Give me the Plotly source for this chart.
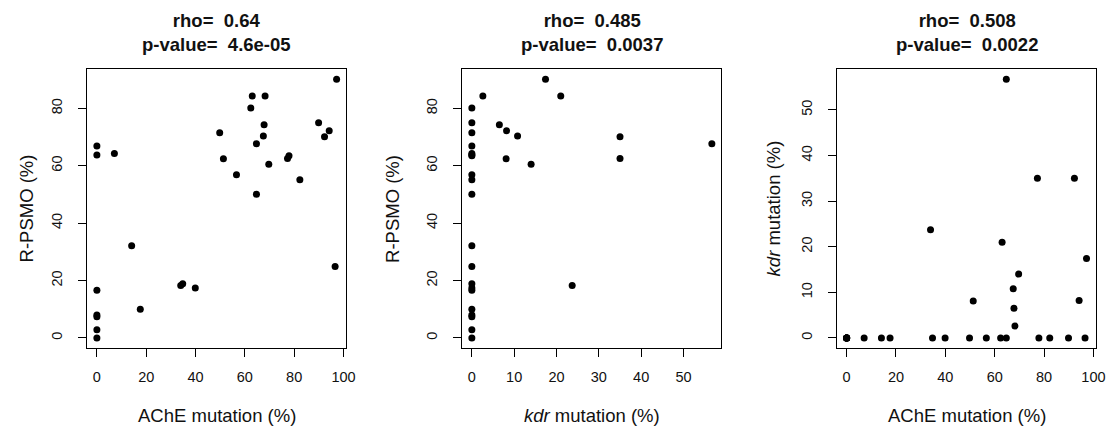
import plotly.graph_objects as go

# Data (one row per population): AChE mutation %, kdr mutation %, R-PSMO %
ache = [0, 0, 0, 0, 0, 0, 0, 7.1, 14.1, 17.6, 34.0, 34.8, 39.9, 49.8, 51.3, 56.6,
        62.4, 63.0, 64.7, 64.7, 67.5, 67.8, 68.2, 69.7, 77.3, 77.9, 82.3, 89.9,
        92.3, 94.2, 96.6, 97.2]
kdr = [0, 0, 0, 0, 0, 0, 0, 0, 0, 0, 23.7, 0, 0, 0, 8.1, 0,
       0, 21.0, 0, 56.7, 10.8, 6.5, 2.6, 14.0, 35.0, 0, 0, 0,
       35.0, 8.2, 0, 17.4]
rpsmo = [0, 2.9, 7.4, 8.0, 16.6, 63.7, 66.9, 64.3, 32.1, 10.0, 18.3, 18.9, 17.4, 71.5, 62.4, 56.9,
         80.1, 84.3, 50.1, 67.7, 70.4, 74.3, 84.3, 60.5, 62.5, 63.5, 55.1, 75.0,
         70.1, 72.2, 24.9, 90.1]

titles = [("0.64", "4.6e-05"), ("0.485", "0.0037"), ("0.508", "0.0022")]
ache_ticks = [0, 20, 40, 60, 80, 100]
kdr_ticks = [0, 10, 20, 30, 40, 50]
rpsmo_ticks = [0, 20, 40, 60, 80]

W, H = 1120, 434
FONT = "Liberation Sans, Arial, sans-serif"


def rrange(v):
    lo, hi = min(v), max(v)
    pad = 0.04 * (hi - lo)
    return [lo - pad, hi + pad]


panels = [
    dict(x=ache, y=rpsmo, xt=ache_ticks, yt=rpsmo_ticks,
         xlab="AChE mutation (%)", ylab="R-PSMO (%)",
         box=(88, 349), ylabx=27),
    dict(x=kdr, y=rpsmo, xt=kdr_ticks, yt=rpsmo_ticks,
         xlab="<i>kdr</i> mutation (%)", ylab="R-PSMO (%)",
         box=(466, 727.3), ylabx=395.5),
    dict(x=ache, y=kdr, xt=ache_ticks, yt=kdr_ticks,
         xlab="AChE mutation (%)", ylab="<i>kdr</i> mutation (%)",
         box=(843.8, 1105), ylabx=780),
]

box_top, box_bot = 69, 348.3
ydom = [1 - box_bot / H, 1 - box_top / H]

fig = go.Figure()
annotations = []
for i, p in enumerate(panels):
    n = "" if i == 0 else str(i + 1)
    fig.add_trace(go.Scatter(
        x=p["x"], y=p["y"], mode="markers",
        marker=dict(color="black", size=7, line=dict(width=0)),
        xaxis="x" + n, yaxis="y" + n, showlegend=False, hoverinfo="x+y"))
    axcommon = dict(showline=True, linecolor="black", linewidth=1, mirror=True,
                    showgrid=False, zeroline=False, ticks="outside", ticklen=8,
                    tickwidth=1, tickcolor="black",
                    tickfont=dict(family=FONT, size=14.5, color="#111"))
    xdom = [p["box"][0] / W, p["box"][1] / W]
    fig.update_layout(**{
        "xaxis" + n: dict(domain=xdom, range=rrange(p["x"]), tickvals=p["xt"],
                          anchor="y" + n, ticklabelstandoff=7, **axcommon),
        "yaxis" + n: dict(domain=ydom, range=rrange(p["y"]), tickvals=p["yt"],
                          anchor="x" + n, tickangle=-90, ticklabelstandoff=10,
                          **axcommon),
    })
    cx = (p["box"][0] + p["box"][1]) / 2 / W
    rho, pv = titles[i]
    annotations.append(dict(
        text=f"<b>rho= \u00a0{rho}</b><br><b>p-value= \u00a0{pv}</b>",
        x=cx, y=1 - 32 / H, xref="paper", yref="paper", showarrow=False,
        xanchor="center", yanchor="middle",
        font=dict(family=FONT, size=18.5, color="#111")))
    annotations.append(dict(
        text=p["xlab"], x=cx, y=1 - 415 / H, xref="paper", yref="paper",
        showarrow=False, xanchor="center", yanchor="middle",
        font=dict(family=FONT, size=18.5, color="#111")))
    annotations.append(dict(
        text=p["ylab"], x=p["ylabx"] / W, y=(ydom[0] + ydom[1]) / 2,
        xref="paper", yref="paper", showarrow=False, textangle=-90,
        xanchor="center", yanchor="middle",
        font=dict(family=FONT, size=18.5, color="#111")))

fig.update_layout(width=W, height=H, margin=dict(l=0, r=0, t=0, b=0),
                  paper_bgcolor="white", plot_bgcolor="white",
                  annotations=annotations)
fig.write_html("out.html", config={"displayModeBar": False},
               post_script="document.body.style.margin='0';document.body.style.overflow='hidden';")
